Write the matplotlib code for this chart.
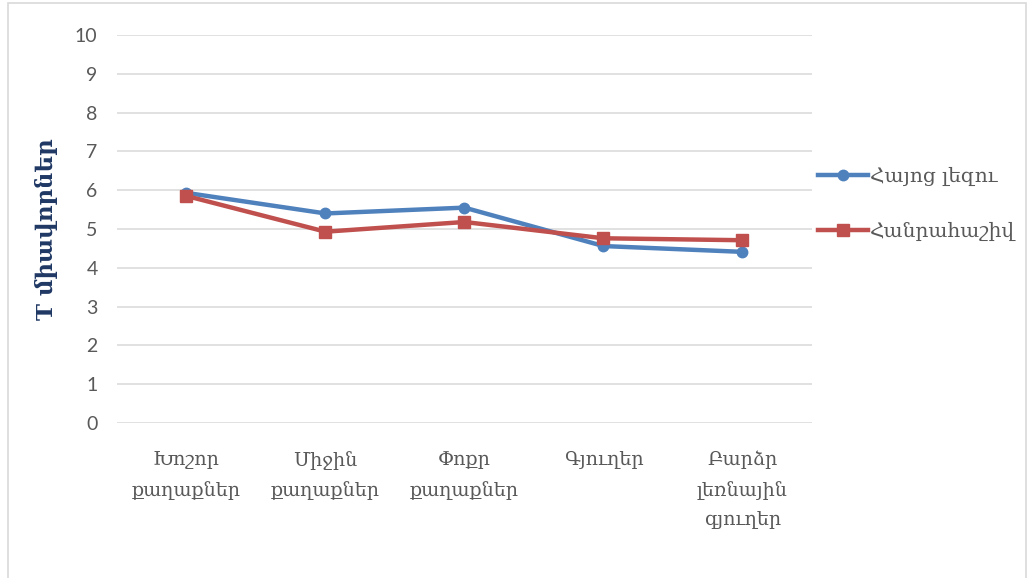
import matplotlib.pyplot as plt
from matplotlib.patches import Rectangle

categories = ["Խոշոր\nքաղաքներ", "Միջին\nքաղաքներ", "Փոքր\nքաղաքներ", "Գյուղեր", "Բարձր\nլեռնային\nգյուղեր"]
armenian = [5.93, 5.40, 5.55, 4.56, 4.41]
algebra = [5.85, 4.93, 5.18, 4.76, 4.71]
series_names = ["Հայոց լեզու", "Հանրահաշիվ"]

text_gray = "#595959"
serif = ["DejaVu Serif", "DejaVu Sans"]

fig = plt.figure(figsize=(10.28, 5.78), dpi=100)
ax = fig.add_axes([0.1138, 0.2682, 0.676, 0.6713])

x = range(len(categories))
ax.plot(x, armenian, color="#4F81BD", lw=3.2, marker="o", ms=7.5, label=series_names[0], zorder=3)
ax.plot(x, algebra, color="#C0504D", lw=3.2, marker="s", ms=8.5, label=series_names[1], zorder=3)

ax.set_xlim(-0.5, len(categories) - 0.5)
ax.set_ylim(0, 10)
ax.set_yticks(range(0, 11))
ax.grid(axis="y", color="#D9D9D9", lw=1.1)
ax.set_axisbelow(True)
for s in ax.spines.values():
    s.set_visible(False)

ax.set_xticks(list(x))
ax.set_xticklabels(categories, family=serif, fontsize=13.8, color=text_gray, linespacing=1.8)
ax.tick_params(axis="x", length=0, pad=20)
ax.tick_params(axis="y", length=0, pad=14, labelsize=14, labelcolor=text_gray)
for lab in ax.get_yticklabels():
    lab.set_family(["Lato", "DejaVu Sans"])

ax.set_ylabel("T միավորներ", family=serif, fontsize=16.5, fontweight="bold", color="#1F3864", labelpad=12)

fig.legend(loc="upper left", bbox_to_anchor=(0.786, 0.728), frameon=False,
           prop={"family": serif, "size": 14.5}, labelcolor=text_gray,
           handlelength=2.5, handletextpad=0.1, labelspacing=1.75, borderpad=0)

# light border of the original picture
fig.patches.append(Rectangle((0.008, -0.01), 0.99, 1.005, transform=fig.transFigure,
                             fill=False, edgecolor="#D9D9D9", lw=1.2))

fig.savefig("out.png", dpi=100)
